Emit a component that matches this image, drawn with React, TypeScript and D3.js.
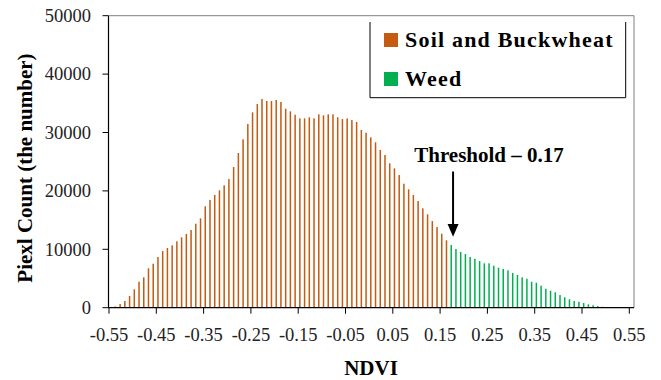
import * as d3 from "d3";

// pixel counts per 0.01 NDVI bin
const counts = [
  100, 200, 630, 1150, 2000, 3150, 4450, 5200, 6750, 7530,
  8680, 9700, 10220, 10680, 11370, 12050, 12620, 13300, 14380, 15300,
  17360, 18440, 19300, 20100, 20950, 22030, 24090, 26490, 28830, 31450,
  33450, 34870, 35730, 35390, 35390, 35560, 35220, 34070, 33620, 33040,
  32420, 32420, 32600, 32420, 33110, 32940, 33110, 33110, 32600, 32300,
  32420, 32130, 31790, 30420, 29960, 29170, 28320, 27000, 26140, 24720,
  23860, 22720, 21230, 20270, 19300, 18270, 17020, 15990, 14840, 13820,
  12670, 11540, 10730, 10050, 9540, 9190, 8680, 8390, 7990, 7600,
  7600, 7190, 6850, 6630, 6400, 5940, 5600, 5200, 4960, 4450,
  4280, 3770, 3250, 2910, 2640, 2170, 1780, 1440, 1150, 1030,
  800, 580, 410, 290, 170, 120, 100, 100, 80, 60,
];
const firstBin = -0.5465;
const binStep = 0.01;
const threshold = 0.17;
const xTicks = [-0.55, -0.45, -0.35, -0.25, -0.15, -0.05, 0.05, 0.15, 0.25, 0.35, 0.45, 0.55];
const yTicks = [0, 10000, 20000, 30000, 40000, 50000];
const seriesNames = ["Soil and Buckwheat", "Weed"];
const seriesColors = ["#C55A11", "#00B050"];

const W = 661;
const H = 380;
const plot = { left: 108.5, right: 634, top: 15.7, bottom: 307.7 };
const serif = "'Liberation Serif', 'Times New Roman', serif";

export default function App() {
  const x = d3.scaleLinear().domain([-0.55, 0.55]).range([109, 629.3]);
  const y = d3.scaleLinear().domain([0, 50000]).range([plot.bottom, plot.top]);

  const bins = counts.map((c, i) => ({ v: firstBin + i * binStep, c }));
  const arrowX = x(threshold) + 3.5;
  const fmt = (t: number) => d3.format(".2f")(t).replace("−", "-");

  return (
    <svg
      width={W}
      height={H}
      style={{ position: "absolute", left: 0, top: 0, background: "#fff" }}
      fontFamily={serif}
    >
      {/* bars */}
      {bins.map((b, i) => (
        <rect
          key={i}
          x={x(b.v) - 0.75}
          y={y(b.c)}
          width={1.5}
          height={plot.bottom - y(b.c)}
          fill={b.v > threshold ? seriesColors[1] : seriesColors[0]}
        />
      ))}

      {/* plot frame */}
      <line x1={plot.left} x2={plot.right} y1={plot.top} y2={plot.top} stroke="#7f7f7f" strokeWidth={1} />
      <line x1={plot.right} x2={plot.right} y1={plot.top} y2={plot.bottom} stroke="#7f7f7f" strokeWidth={1} />
      <line x1={plot.left} x2={plot.left} y1={plot.top} y2={plot.bottom} stroke="#000" strokeWidth={1.2} />
      <line x1={plot.left} x2={plot.right} y1={plot.bottom} y2={plot.bottom} stroke="#000" strokeWidth={1.2} />

      {/* y axis */}
      {yTicks.map((t) => (
        <g key={t}>
          <line x1={plot.left - 6} x2={plot.left} y1={y(t)} y2={y(t)} stroke="#000" />
          <text x={91} y={y(t)} dy="0.34em" textAnchor="end" fontSize={18.5} fill="#222">
            {t}
          </text>
        </g>
      ))}

      {/* x axis */}
      {xTicks.map((t) => (
        <g key={t}>
          <line x1={x(t)} x2={x(t)} y1={plot.bottom} y2={plot.bottom + 6} stroke="#000" />
          <text x={x(t)} y={341} textAnchor="middle" fontSize={18.5} fill="#222">
            {fmt(t)}
          </text>
        </g>
      ))}

      <text x={371} y={375} textAnchor="middle" fontSize={21} fontWeight="bold">
        NDVI
      </text>
      <text
        transform={`translate(32,168) rotate(-90)`}
        textAnchor="middle"
        fontSize={21}
        fontWeight="bold"
      >
        Piexl Count (the number)
      </text>

      {/* legend */}
      <path d="M370,22 V97.7 H625.7 V22" fill="none" stroke="#000" strokeWidth={1} />
      {seriesNames.map((n, i) => (
        <g key={n} transform={`translate(384,${33 + i * 39})`}>
          <rect width={14} height={14} fill={seriesColors[i]} />
          <text x={21} y={13.7} fontSize={22} fontWeight="bold" letterSpacing={1.2}>
            {n}
          </text>
        </g>
      ))}

      {/* threshold annotation */}
      <text x={489} y={161.7} textAnchor="middle" fontSize={21} fontWeight="bold">
        Threshold – {threshold}
      </text>
      <line x1={arrowX} x2={arrowX} y1={171.5} y2={226} stroke="#000" strokeWidth={2} />
      <path
        d={`M${arrowX - 5.5},224 L${arrowX + 5.5},224 L${arrowX},236.7 Z`}
        fill="#000"
      />
    </svg>
  );
}
